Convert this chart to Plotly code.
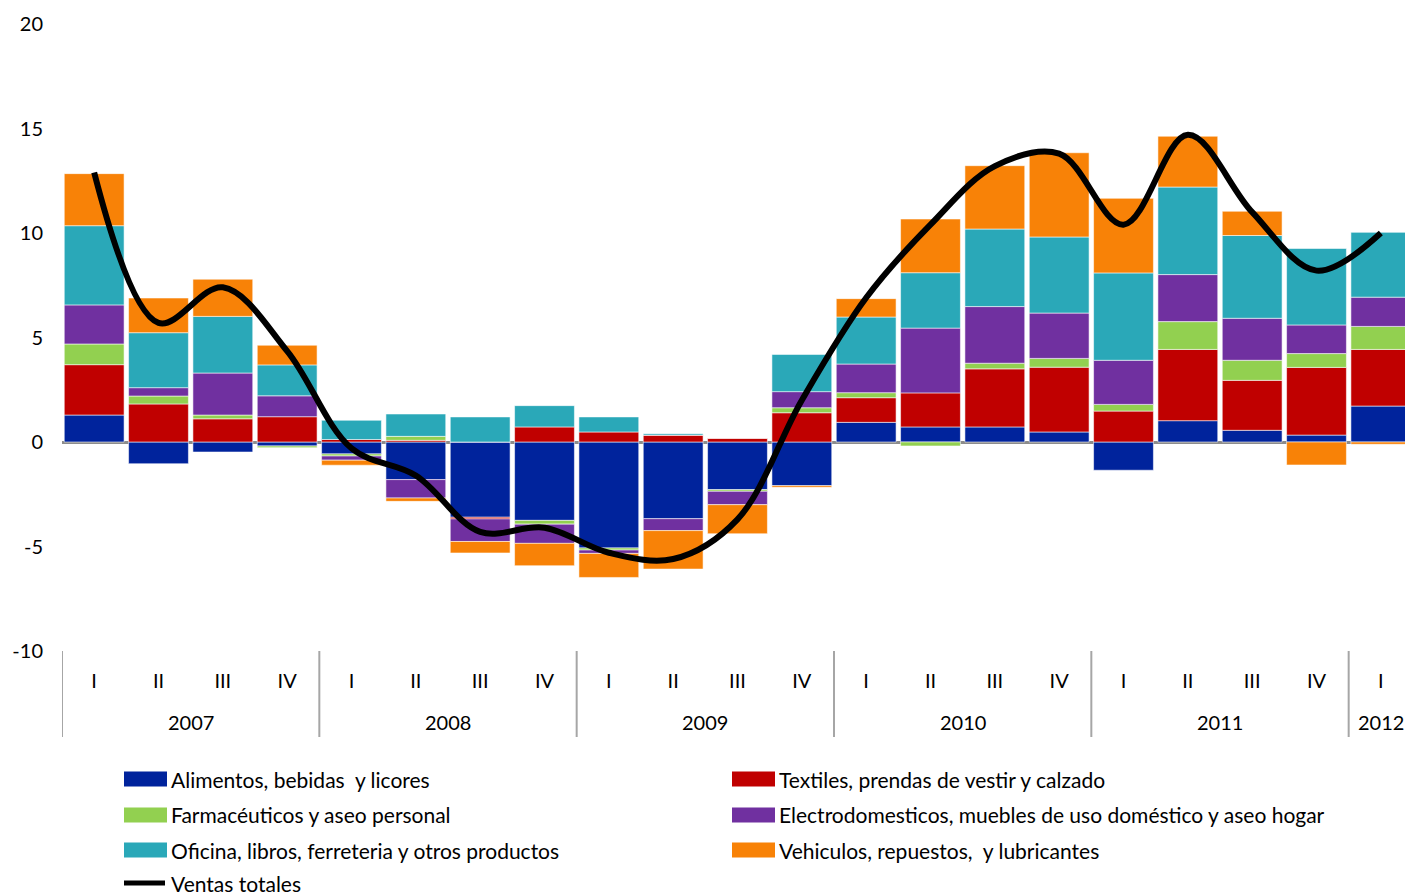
import plotly.graph_objects as go

# categories
years = ["2007"] * 4 + ["2008"] * 4 + ["2009"] * 4 + ["2010"] * 4 + ["2011"] * 4 + ["2012"]
quarters = ["I", "II", "III", "IV"] * 5 + ["I"]
year_labels = ["2007", "2008", "2009", "2010", "2011", "2012"]

# contributions by group (percentage points)
alimentos = [1.29, -1.04, -0.48, -0.19, -0.57, -1.80, -3.60, -3.75, -5.07, -3.67, -2.28,
             -2.09, 0.94, 0.72, 0.72, 0.48, -1.35, 1.02, 0.56, 0.33, 1.72]
textiles = [2.41, 1.82, 1.11, 1.21, 0.12, 0.08, -0.08, 0.72, 0.48, 0.33, 0.18,
            1.40, 1.18, 1.63, 2.78, 3.10, 1.48, 3.41, 2.39, 3.24, 2.71]
farmaceuticos = [0.99, 0.38, 0.18, -0.08, -0.10, 0.19, 0.0, -0.18, -0.10, 0.0, -0.08,
                 0.24, 0.24, -0.19, 0.27, 0.42, 0.32, 1.33, 0.96, 0.66, 1.10]
electro = [1.87, 0.40, 2.01, 1.00, -0.20, -0.88, -1.08, -0.92, -0.16, -0.57, -0.64,
           0.77, 1.37, 3.10, 2.71, 2.17, 2.11, 2.25, 2.01, 1.37, 1.40]
oficina = [3.79, 2.63, 2.71, 1.48, 0.92, 1.07, 1.20, 1.02, 0.72, 0.07, 0.0,
           1.78, 2.25, 2.65, 3.71, 3.64, 4.18, 4.19, 3.96, 3.66, 3.10]
vehiculos = [2.49, 1.66, 1.78, 0.94, -0.24, -0.16, -0.55, -1.07, -1.15, -1.84, -1.39,
             -0.08, 0.88, 2.57, 3.03, 4.03, 3.57, 2.43, 1.16, -1.10, -0.11]
ventas_totales = [12.9, 5.7, 7.4, 4.35, -0.3, -1.6, -4.3, -4.1, -5.3, -5.6, -3.7,
                  2.0, 6.9, 10.4, 13.2, 13.8, 10.4, 14.7, 11.0, 8.2, 10.0]

y_ticks = [-10, -5, 0, 5, 10, 15, 20]
y_ticktext = ["-10", "-5", "0", "5", "10", "15", "20"]

SERIES = [
    ("Alimentos, bebidas  y licores", alimentos, "#00239C"),
    ("Textiles, prendas de vestir y calzado", textiles, "#C00000"),
    ("Farmacéuticos y aseo personal", farmaceuticos, "#92D050"),
    ("Electrodomesticos, muebles de uso doméstico y aseo hogar", electro, "#7030A0"),
    ("Oficina, libros, ferreteria y otros productos", oficina, "#2AA8B8"),
    ("Vehiculos, repuestos,  y lubricantes", vehiculos, "#F88207"),
]
FONT = "Lato, Carlito, Calibri, sans-serif"

# page body has an 8px margin, so the figure is 8px smaller than the window
W, H = 1405, 888
L, R, T, B = 54, 0, 16, 245
PW, PH = W - L - R, H - T - B


def px(x):
    # window pixel -> paper x
    return (x - 8 - L) / PW


def py(y):
    # window pixel -> paper y
    return (H - B - (y - 8)) / PH


cats = [f"{y}-{q}" for y, q in zip(years, quarters)]

fig = go.Figure()
for name, vals, color in SERIES:
    fig.add_bar(
        x=cats, y=vals, name=name, marker_color=color,
        marker_line=dict(color="rgba(255,255,255,0.55)", width=1),
        showlegend=False,
    )
fig.add_scatter(
    x=cats, y=ventas_totales, name="Ventas totales", mode="lines",
    line=dict(color="black", width=6, shape="spline", smoothing=1.0),
    showlegend=False,
)

# year labels and dividers under the quarter labels
for yr in year_labels:
    idx = [i for i, v in enumerate(years) if v == yr]
    fig.add_annotation(x=(idx[0] + idx[-1]) / 2, y=py(722), xref="x", yref="paper",
                       text=yr, showarrow=False, yanchor="middle",
                       font=dict(size=20, color="black", family=FONT))
    fig.add_shape(type="line", xref="x", yref="paper",
                  x0=idx[0] - 0.5, x1=idx[0] - 0.5, y0=0, y1=py(737),
                  line=dict(color="#A6A6A6", width=2))

# hand-built legend: wide swatches like the original
rows = [779, 815, 850, 883]
cols = [(124, 167), (732, 775)]
for i, (name, _, color) in enumerate(SERIES):
    x0, x1 = cols[i % 2]
    yc = rows[i // 2]
    fig.add_shape(type="rect", xref="paper", yref="paper",
                  x0=px(x0), x1=px(x1), y0=py(yc + 7.5), y1=py(yc - 7.5),
                  fillcolor=color, line_width=0)
    fig.add_annotation(x=px(x1 + 2), y=py(yc), xref="paper", yref="paper",
                       text=name, showarrow=False, xanchor="left", yanchor="middle",
                       font=dict(size=21, color="black", family=FONT))
fig.add_shape(type="line", xref="paper", yref="paper",
              x0=px(124), x1=px(165), y0=py(rows[3]), y1=py(rows[3]),
              line=dict(color="black", width=5))
fig.add_annotation(x=px(169), y=py(rows[3]), xref="paper", yref="paper",
                   text="Ventas totales", showarrow=False, xanchor="left", yanchor="middle",
                   font=dict(size=21, color="black", family=FONT))

fig.update_layout(
    width=W, height=H, barmode="relative", bargap=0.07,
    margin=dict(l=L, r=R, t=T, b=B, pad=0),
    paper_bgcolor="white", plot_bgcolor="white",
    font=dict(family=FONT, size=20, color="black"),
)
fig.update_xaxes(
    type="category", tickvals=cats, ticktext=quarters,
    showgrid=False, showline=False, ticks="", ticklabelstandoff=16,
    tickfont=dict(size=20), range=[-0.5, len(cats) - 0.5],
)
fig.update_yaxes(
    range=[-10, 20], tickvals=y_ticks, ticktext=y_ticktext,
    showgrid=False, showline=False,
    zeroline=True, zerolinecolor="#8C8C8C", zerolinewidth=2.5,
    ticklabelstandoff=18, tickfont=dict(size=20),
)

fig.write_html("out.html")
